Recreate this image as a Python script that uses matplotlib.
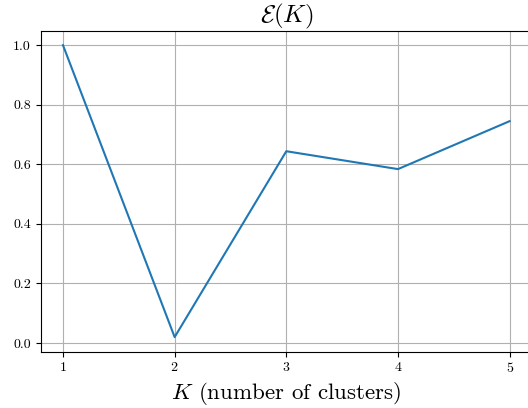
import numpy as np
import matplotlib
matplotlib.use('Agg')
import matplotlib.pyplot as plt

# Данные: число кластеров и значение критерия
K = [1, 2, 3, 4, 5]
E_vals = [1.0, 0.02, 0.644, 0.584, 0.745]
x_ticks = [1, 2, 3, 4, 5]
y_ticks = [0.0, 0.2, 0.4, 0.6, 0.8, 1.0]

plt.rcParams['font.family'] = 'serif'
plt.rcParams['font.serif'] = ['cmr10']
plt.rcParams['mathtext.fontset'] = 'cm'
plt.rcParams['axes.formatter.use_mathtext'] = True

fig = plt.figure(figsize=(5.28, 4.08), dpi=100)
ax = fig.add_axes([0.077, 0.138, 0.9305, 0.787])
ax.plot(K, E_vals, color='#1f77b4', linewidth=1.5)
ax.set_xticks(x_ticks)
ax.set_yticks(y_ticks)
ax.set_yticklabels([f'{v:.1f}' for v in y_ticks])
ax.grid(True, color='#b0b0b0', linewidth=0.8)
ax.tick_params(labelsize=10)
ax.set_title(r'$\mathcal{E}(K)$', fontsize=18, pad=3)
ax.set_xlabel(r'$K$ (number of clusters)', fontsize=16.5, labelpad=3)
fig.savefig('out.png', dpi=100)
